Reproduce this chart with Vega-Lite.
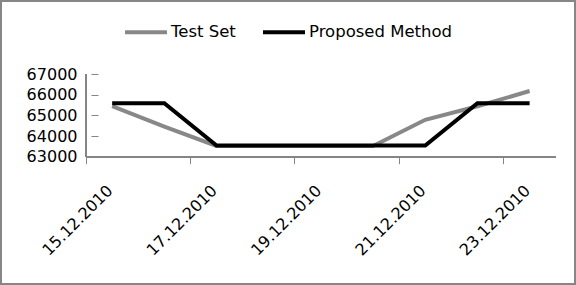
{
  "$schema": "https://vega.github.io/schema/vega-lite/v6.json",
  "width": 574,
  "height": 283,
  "autosize": {"type": "none"},
  "padding": 1,
  "background": "white",
  "config": {
    "view": {"stroke": "#868686", "strokeWidth": 2},
    "font": "DejaVu Sans"
  },
  "data": {
    "values": [
      {"date": "15.12.2010", "series": "Test Set", "value": 65460},
      {"date": "16.12.2010", "series": "Test Set", "value": 64460},
      {"date": "17.12.2010", "series": "Test Set", "value": 63520},
      {"date": "18.12.2010", "series": "Test Set", "value": 63520},
      {"date": "19.12.2010", "series": "Test Set", "value": 63520},
      {"date": "20.12.2010", "series": "Test Set", "value": 63520},
      {"date": "21.12.2010", "series": "Test Set", "value": 64790},
      {"date": "22.12.2010", "series": "Test Set", "value": 65450},
      {"date": "23.12.2010", "series": "Test Set", "value": 66190},
      {"date": "15.12.2010", "series": "Proposed Method", "value": 65600},
      {"date": "16.12.2010", "series": "Proposed Method", "value": 65600},
      {"date": "17.12.2010", "series": "Proposed Method", "value": 63540},
      {"date": "18.12.2010", "series": "Proposed Method", "value": 63540},
      {"date": "19.12.2010", "series": "Proposed Method", "value": 63540},
      {"date": "20.12.2010", "series": "Proposed Method", "value": 63540},
      {"date": "21.12.2010", "series": "Proposed Method", "value": 63540},
      {"date": "22.12.2010", "series": "Proposed Method", "value": 65600},
      {"date": "23.12.2010", "series": "Proposed Method", "value": 65600}
    ]
  },
  "layer": [
    {
      "mark": {"type": "rule", "color": "#868686", "strokeWidth": 1},
      "encoding": {
        "x": {"datum": "15.12.2010", "type": "ordinal", "bandPosition": 0},
        "y": {"datum": 63000, "type": "quantitative"},
        "y2": {"datum": 67000}
      }
    },
    {
      "mark": {"type": "rule", "color": "#868686", "strokeWidth": 1},
      "encoding": {
        "x": {"datum": "15.12.2010", "type": "ordinal", "bandPosition": 0},
        "x2": {"datum": "23.12.2010", "bandPosition": 1},
        "y": {"datum": 63000, "type": "quantitative"}
      }
    },
    {
      "mark": {"type": "line", "strokeWidth": 4},
      "encoding": {
        "x": {
          "field": "date",
          "type": "ordinal",
          "title": null,
          "scale": {
            "type": "band",
            "domain": ["15.12.2010", "16.12.2010", "17.12.2010", "18.12.2010", "19.12.2010", "20.12.2010", "21.12.2010", "22.12.2010", "23.12.2010"],
            "paddingInner": 0,
            "paddingOuter": 1.1765,
            "align": 0.8151
          },
          "axis": {
            "orient": "bottom",
            "offset": -127.3,
            "values": ["15.12.2010", "17.12.2010", "19.12.2010", "21.12.2010", "23.12.2010"],
            "bandPosition": 0,
            "labelOffset": -2,
            "domain": false,
            "grid": false,
            "ticks": true,
            "tickColor": "#868686",
            "tickSize": 7,
            "labelAngle": -45,
            "labelAlign": "right",
            "labelBaseline": "middle",
            "labelPadding": 24,
            "labelFontSize": 16,
            "labelFont": "DejaVu Sans",
            "labelColor": "#000000",
            "title": null
          }
        },
        "y": {
          "field": "value",
          "type": "quantitative",
          "title": null,
          "scale": {"domain": [56820, 70558], "nice": false, "zero": false},
          "axis": {
            "orient": "left",
            "offset": -97,
            "values": [63000, 64000, 65000, 66000, 67000],
            "format": "d",
            "domain": false,
            "grid": false,
            "tickColor": "#868686",
            "tickSize": 7,
            "labelPadding": 14,
            "labelFontSize": 16,
            "labelFont": "DejaVu Sans",
            "labelColor": "#000000",
            "title": null
          }
        },
        "color": {
          "field": "series",
          "type": "nominal",
          "scale": {"domain": ["Test Set", "Proposed Method"], "range": ["#888888", "#000000"]},
          "legend": {
            "orient": "none",
            "legendX": 122,
            "legendY": 8,
            "direction": "horizontal",
            "title": null,
            "symbolType": "stroke",
            "symbolSize": 1764,
            "symbolStrokeWidth": 4,
            "labelFontSize": 16.5,
            "labelFont": "DejaVu Sans",
            "labelColor": "#000000",
            "labelOffset": 2,
            "columnPadding": 19
          }
        }
      }
    }
  ]
}
